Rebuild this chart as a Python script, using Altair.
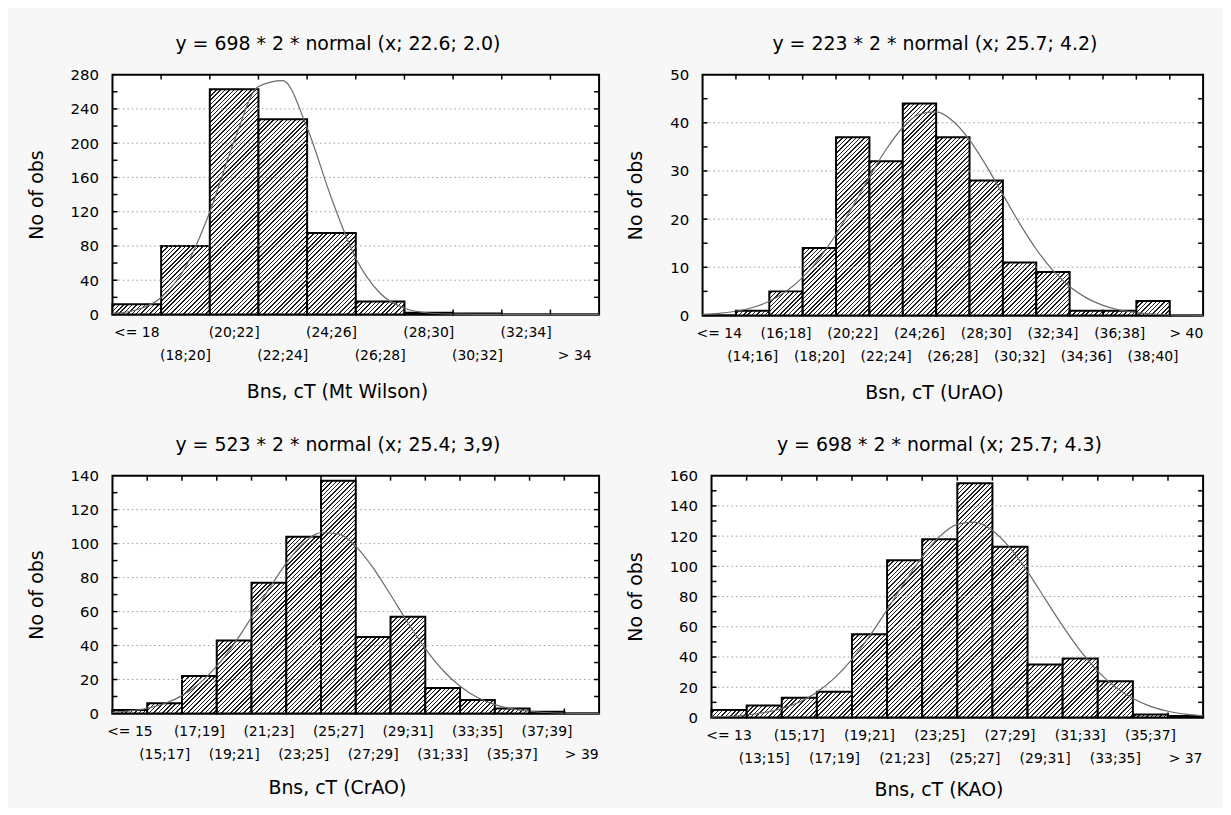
import altair as alt

FONT = "DejaVu Sans"

# ---------------- data ----------------
# Panel 1 (Mt Wilson)
p1_title = "y = 698 * 2 * normal (x; 22.6; 2.0)"
p1_xtitle = "Bns, cT (Mt Wilson)"
p1_labels = ["<= 18", "(18;20]", "(20;22]", "(22;24]", "(24;26]", "(26;28]",
             "(28;30]", "(30;32]", "(32;34]", "> 34"]
p1_counts = [12, 80, 263, 228, 95, 15, 2, 1, 0, 0]
p1_start = 16
p1_yticks = [0, 40, 80, 120, 160, 200, 240, 280]
p1_curve_x = [16, 17, 18, 19, 20, 21, 22, 23, 24, 25, 26, 27, 28, 29, 30, 31, 32, 33, 34, 35, 36]
p1_curve_y = [1.2, 5.5, 19.8, 55.1, 119.6, 202.2, 266.2, 273.0, 218.0, 135.6, 65.6, 24.8,
              7.3, 1.7, 0.3, 0.05, 0, 0, 0, 0, 0]

# Panel 2 (UrAO)
p2_title = "y = 223 * 2 * normal (x; 25.7; 4.2)"
p2_xtitle = "Bsn, cT (UrAO)"
p2_labels = ["<= 14", "(14;16]", "(16;18]", "(18;20]", "(20;22]", "(22;24]", "(24;26]",
             "(26;28]", "(28;30]", "(30;32]", "(32;34]", "(34;36]", "(36;38]", "(38;40]", "> 40"]
p2_counts = [0, 1, 5, 14, 37, 32, 44, 37, 28, 11, 9, 1, 1, 3, 0]
p2_start = 12
p2_yticks = [0, 10, 20, 30, 40, 50]
p2_curve_x = list(range(12, 43))
p2_curve_y = [0.21, 0.44, 0.87, 1.65, 2.94, 4.96, 7.90, 11.87, 16.87, 22.65, 28.74, 34.45,
              39.03, 41.78, 42.25, 40.38, 36.46, 31.11, 25.08, 19.11, 13.75, 9.35, 6.01,
              3.65, 2.09, 1.13, 0.58, 0.28, 0.13, 0.06, 0.02]

# Panel 3 (CrAO)
p3_title = "y = 523 * 2 * normal (x; 25.4; 3,9)"
p3_xtitle = "Bns, cT (CrAO)"
p3_labels = ["<= 15", "(15;17]", "(17;19]", "(19;21]", "(21;23]", "(23;25]", "(25;27]",
             "(27;29]", "(29;31]", "(31;33]", "(33;35]", "(35;37]", "(37;39]", "> 39"]
p3_counts = [2, 6, 22, 43, 77, 104, 137, 45, 57, 15, 8, 3, 1, 0]
p3_start = 13
p3_yticks = [0, 20, 40, 60, 80, 100, 120, 140]
p3_curve_x = list(range(13, 42))
p3_curve_y = [0.68, 1.49, 3.05, 5.85, 10.52, 17.69, 27.85, 41.01, 56.65, 73.17, 88.54,
              100.3, 106.4, 105.7, 98.4, 85.7, 69.9, 53.4, 38.2, 25.6, 16.0, 9.4, 5.2,
              2.7, 1.28, 0.58, 0.24, 0.10, 0.04]

# Panel 4 (KAO)
p4_title = "y = 698 * 2 * normal (x; 25.7; 4.3)"
p4_xtitle = "Bns, cT (KAO)"
p4_labels = ["<= 13", "(13;15]", "(15;17]", "(17;19]", "(19;21]", "(21;23]", "(23;25]",
             "(25;27]", "(27;29]", "(29;31]", "(31;33]", "(33;35]", "(35;37]", "> 37"]
p4_counts = [5, 8, 13, 17, 55, 104, 118, 155, 113, 35, 39, 24, 2, 1]
p4_start = 11
p4_yticks = [0, 20, 40, 60, 80, 100, 120, 140, 160]
p4_curve_x = list(range(11, 40))
p4_curve_y = [0.38, 0.81, 1.65, 3.20, 5.86, 10.18, 16.72, 26.07, 38.46, 53.77, 71.28,
              89.45, 106.3, 119.8, 127.8, 129.2, 123.7, 112.2, 96.5, 78.5, 60.6, 44.3,
              30.7, 20.1, 12.5, 7.35, 4.1, 2.17, 1.08]

BIN = 2  # class width, cT

# ---------------- styling / layout ----------------
LAYOUT = {
    1: dict(W=489, H=241, xtitle_y=77),
    2: dict(W=503, H=242, xtitle_y=77),
    3: dict(W=489, H=239, xtitle_y=74),
    4: dict(W=494, H=243, xtitle_y=72),
}


def hatch(wpx, hpx, period=4.4, dark=1.5, ink="#1e1e1e"):
    """Diagonal '////' hatch as a linear gradient in the bar's bounding box."""
    if hpx < 1.0:
        return "white"
    c = max(1.0, wpx * (wpx + hpx) / (wpx ** 2 + hpx ** 2))
    s = wpx / (c * (wpx ** 2 + hpx ** 2))
    stops = [{"offset": 0, "color": "white"}]
    pos = period * 0.5
    while pos * s < 1:
        a = pos * s
        b = min(1.0, (pos + dark) * s)
        stops += [{"offset": a, "color": "white"}, {"offset": a, "color": ink},
                  {"offset": b, "color": ink}, {"offset": b, "color": "white"}]
        pos += period
    return {"gradient": "linear", "x1": 0, "y1": 0, "x2": c, "y2": c * hpx / wpx,
            "stops": stops}


def panel(k, title, xtitle, labels, counts, start, yticks, cx, cy):
    L = LAYOUT[k]
    W, H = L["W"], L["H"]
    n = len(labels)
    ymax = yticks[-1]
    ystep = yticks[1] - yticks[0]
    lo_edge, hi_edge = start, start + BIN * n
    rows = []
    for i, (lab, c) in enumerate(zip(labels, counts)):
        lo = start + BIN * i
        rows.append(dict(i=i, label=lab, count=c, base=0, lo=lo, hi=lo + BIN, mid=lo + BIN / 2,
                         grad=hatch(W / n, c * H / ymax)))
    xs = alt.Scale(domain=[lo_edge, hi_edge], nice=False, zero=False)
    ys = alt.Scale(domain=[0, ymax], nice=False)
    bar_data = alt.Data(values=rows)

    bars = alt.Chart(bar_data).mark_bar(stroke="black", strokeWidth=2).encode(
        x=alt.X("lo:Q", scale=xs, axis=alt.Axis(
            title=xtitle, labels=False, ticks=False, domain=False, grid=False,
            titleFont=FONT, titleFontSize=19, titleFontWeight="normal", titleColor="black",
            titleY=L["xtitle_y"], titleBaseline="middle", titleX=W / 2 - 19)),
        x2="hi:Q",
        y=alt.Y("count:Q", scale=ys, axis=alt.Axis(
            values=yticks, title="No of obs", grid=False, ticks=False,
            domain=False, labelFont=FONT, labelFontSize=15, labelColor="black",
            labelPadding=14, titleFont=FONT, titleFontSize=19, titleFontWeight="normal",
            titleColor="black", titlePadding=24)),
        y2="base:Q",
        fill=alt.Fill("grad:N", scale=None),
    )

    grid = alt.Chart(alt.Data(values=[{"v": v} for v in yticks[1:-1]])).mark_rule(
        color="#9a9a9a", strokeDash=[1.5, 3], strokeWidth=1
    ).encode(y=alt.Y("v:Q", scale=ys, axis=None))

    bounds = [{"b": start + BIN * i} for i in range(1, n)]
    top_ticks = alt.Chart(alt.Data(values=bounds)).mark_rule(color="black", strokeWidth=1.5).encode(
        x=alt.X("b:Q", scale=xs, axis=None), y=alt.value(0), y2=alt.value(5))
    bot_ticks = alt.Chart(alt.Data(values=bounds)).mark_rule(color="black", strokeWidth=1.5).encode(
        x=alt.X("b:Q", scale=xs, axis=None), y=alt.value(H), y2=alt.value(H - 5))
    half = [{"t": ystep * j / 2} for j in range(1, 2 * (len(yticks) - 1))]
    left_ticks = alt.Chart(alt.Data(values=half)).mark_rule(color="black", strokeWidth=1.5).encode(
        y=alt.Y("t:Q", scale=ys, axis=None), x=alt.value(0), x2=alt.value(5))
    right_ticks = alt.Chart(alt.Data(values=half)).mark_rule(color="black", strokeWidth=1.5).encode(
        y=alt.Y("t:Q", scale=ys, axis=None), x=alt.value(W), x2=alt.value(W - 5))

    curve = alt.Chart(alt.Data(values=[{"x": a, "y": b} for a, b in zip(cx, cy)])).mark_line(
        color="#6a6a6a", strokeWidth=1.2, interpolate="monotone"
    ).encode(x=alt.X("x:Q", scale=xs, axis=None), y=alt.Y("y:Q", scale=ys, axis=None))

    lab_even = alt.Chart(bar_data).transform_filter("datum.i % 2 == 0").mark_text(
        font=FONT, fontSize=14, color="black", baseline="middle"
    ).encode(x=alt.X("mid:Q", scale=xs, axis=None), y=alt.value(H + 19), text="label:N")
    lab_odd = alt.Chart(bar_data).transform_filter("datum.i % 2 == 1").mark_text(
        font=FONT, fontSize=14, color="black", baseline="middle"
    ).encode(x=alt.X("mid:Q", scale=xs, axis=None), y=alt.value(H + 42), text="label:N")

    return alt.layer(bars, grid, curve, top_ticks, bot_ticks, left_ticks, right_ticks,
                     lab_even, lab_odd).resolve_axis(x="independent", y="independent").properties(
        width=W, height=H,
        title=alt.TitleParams(title, font=FONT, fontSize=19, fontWeight="normal",
                              color="black", dx=-18, offset=14))


c1 = panel(1, p1_title, p1_xtitle, p1_labels, p1_counts, p1_start, p1_yticks, p1_curve_x, p1_curve_y)
c2 = panel(2, p2_title, p2_xtitle, p2_labels, p2_counts, p2_start, p2_yticks, p2_curve_x, p2_curve_y)
c3 = panel(3, p3_title, p3_xtitle, p3_labels, p3_counts, p3_start, p3_yticks, p3_curve_x, p3_curve_y)
c4 = panel(4, p4_title, p4_xtitle, p4_labels, p4_counts, p4_start, p4_yticks, p4_curve_x, p4_curve_y)

chart = alt.vconcat(
    alt.hconcat(c1, c2, spacing=22),
    alt.hconcat(c3, c4, spacing=22),
    spacing=32,
).properties(
    background="#f7f7f7",
    padding={"left": 18, "top": 24, "right": 16, "bottom": 6},
).configure_view(stroke="black", strokeWidth=2, fill="white")

chart.save("out.html", embed_options={"renderer": "svg", "actions": False})
